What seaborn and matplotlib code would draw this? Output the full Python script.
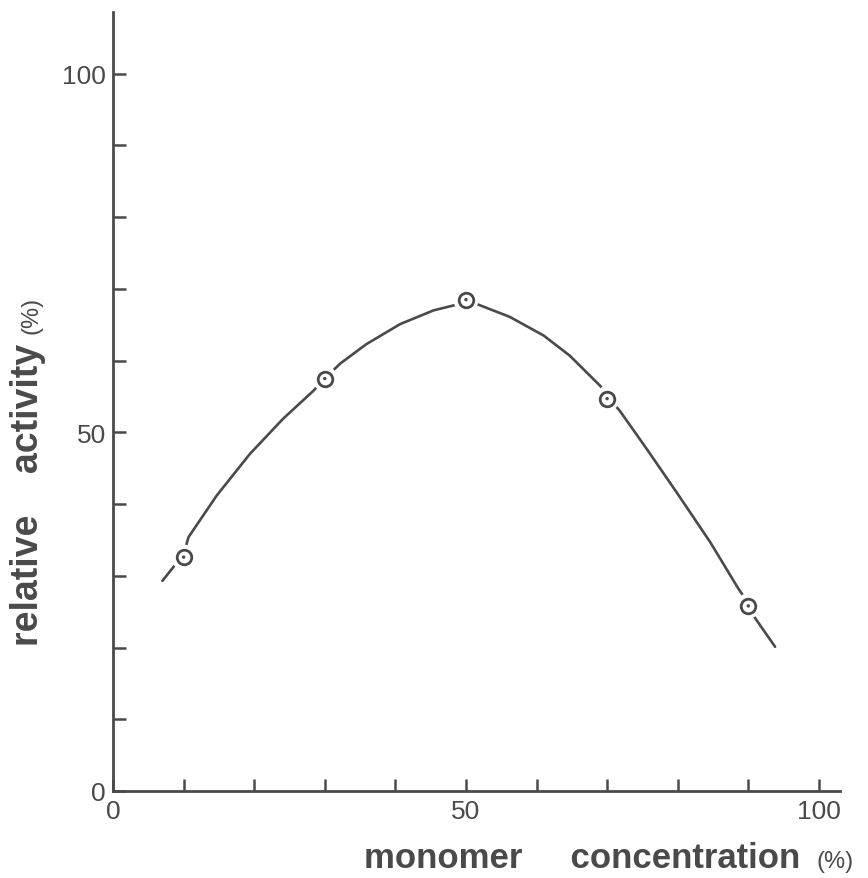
import matplotlib
matplotlib.use("Agg")
import matplotlib.pyplot as plt
import seaborn as sns
import pandas as pd

# measured points
conc = [10, 30, 50, 70, 90]
activity = [32.6, 57.5, 68.5, 54.7, 25.8]

# hand-drawn curve
curve_x = [7.0, 10.0, 10.7, 14.7, 19.4, 24.1, 28.4, 30.0, 32.2, 35.9, 40.7, 45.4,
           48.7, 50.2, 51.5, 56.2, 61.0, 64.7, 69.0, 70.4, 71.8, 75.6, 79.8, 84.6,
           88.6, 90.2, 90.9, 93.8]
curve_y = [29.3, 33.0, 35.4, 41.2, 47.0, 51.9, 55.8, 57.5, 59.6, 62.3, 65.1, 67.0,
           67.8, 68.1, 67.9, 66.1, 63.5, 60.7, 56.5, 54.6, 53.0, 47.7, 41.7, 34.7,
           28.2, 25.9, 24.2, 20.1]

x_ticks = [0, 10, 20, 30, 40, 50, 60, 70, 80, 90, 100]
y_ticks = [0, 10, 20, 30, 40, 50, 60, 70, 80, 90, 100]
x_labels = ["0", "", "", "", "", "50", "", "", "", "", "100"]
y_labels = ["0", "", "", "", "", "50", "", "", "", "", "100"]

ink = "#4a4a4a"

sns.set_theme(style="white")
plt.rcParams["font.family"] = ["Liberation Sans", "DejaVu Sans"]

fig = plt.figure(figsize=(8.68, 8.79), dpi=100)
ax = fig.add_axes([0.1302, 0.0990, 0.8376, 0.8862])

curve = pd.DataFrame({"x": curve_x, "y": curve_y})
pts = pd.DataFrame({"x": conc, "y": activity})

sns.lineplot(data=curve, x="x", y="y", sort=False, estimator=None,
             color=ink, linewidth=1.9, ax=ax, zorder=2)
# white gaps around the markers
sns.scatterplot(data=pts, x="x", y="y", s=330, color="white", edgecolor="none",
                linewidth=0, ax=ax, zorder=3)
sns.scatterplot(data=pts, x="x", y="y", s=110, facecolor="white", edgecolor=ink,
                linewidth=2.0, ax=ax, zorder=4)
sns.scatterplot(data=pts, x="x", y="y", s=6, color=ink, edgecolor="none",
                ax=ax, zorder=5)

ax.set_xlim(0, 103.0)
ax.set_ylim(0, 108.6)

ax.set_xticks(x_ticks)
ax.set_xticklabels(x_labels)
ax.set_yticks(y_ticks)
ax.set_yticklabels(y_labels)

ax.tick_params(axis="both", which="major", direction="in", length=9, width=1.8,
               color=ink, labelcolor=ink, labelsize=19,
               bottom=True, left=True, top=False, right=False)
ax.tick_params(axis="x", pad=6)
ax.tick_params(axis="y", pad=5)

for side in ["top", "right"]:
    ax.spines[side].set_visible(False)
for side in ["left", "bottom"]:
    ax.spines[side].set_color(ink)
    ax.spines[side].set_linewidth(2.0)

ax.set_xlabel("monomer     concentration", fontsize=25, fontweight="bold", color=ink)
ax.xaxis.set_label_coords(0.645, -0.064)
ax.set_ylabel("relative    activity", fontsize=27, fontweight="bold", color=ink)
ax.yaxis.set_label_coords(-0.092, 0.381)

ax.text(0.993, -0.090, "(%)", transform=ax.transAxes, fontsize=17, color=ink,
        ha="center", va="center")
ax.text(-0.112, 0.612, "(%)", transform=ax.transAxes, fontsize=17, color=ink,
        ha="center", va="center", rotation=90)

fig.savefig("out.png", dpi=100, facecolor="white")
